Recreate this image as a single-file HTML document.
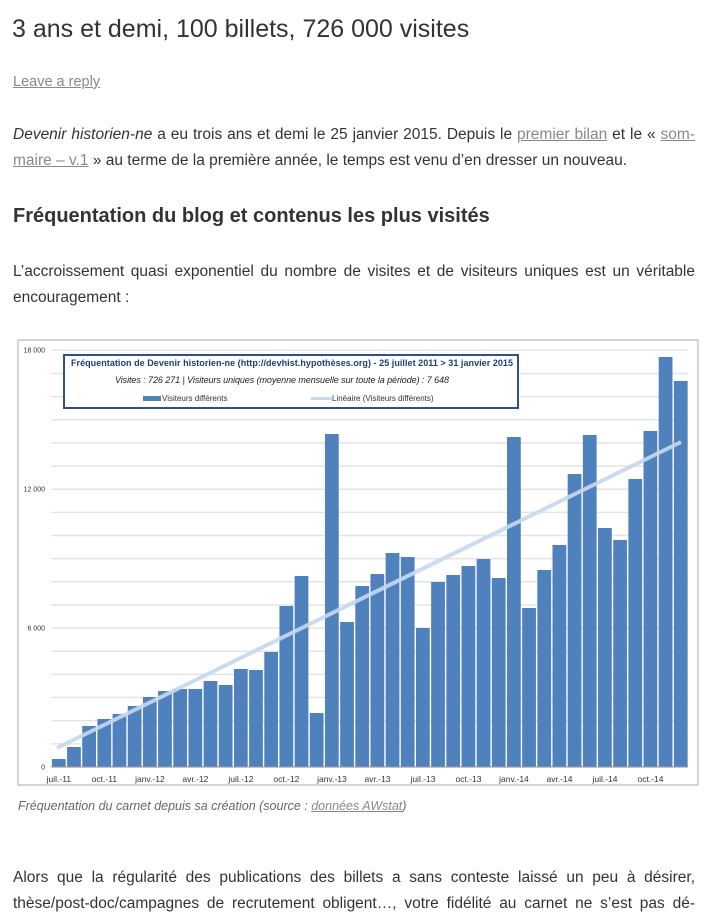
<!DOCTYPE html>
<html><head><meta charset="utf-8"><style>
body{margin:0;width:710px;height:910px;background:#fff;font-family:"Liberation Sans",sans-serif;color:#333;overflow:hidden;position:relative}
.l{position:absolute;left:13px;width:682px;font-size:15.5px;white-space:nowrap}
.j{text-align:justify;text-align-last:justify}
a{color:#888;text-decoration:underline}
h1{position:absolute;left:12px;top:15px;margin:0;font-weight:normal;font-size:25px;color:#333}
h2{position:absolute;left:13px;top:205px;margin:0;font-size:20px;font-weight:bold;color:#333}
</style></head><body>
<h1>3 ans et demi, 100 billets, 726 000 visites</h1>
<div class="l" style="top:74px;font-size:14.5px"><a>Leave a reply</a></div>
<div class="l j" style="top:126px"><i>Devenir historien-ne</i> a eu trois ans et demi le 25 janvier 2015. Depuis le <a>premier bilan</a> et le « <a>som-</a></div>
<div class="l" style="top:152px"><a>maire – v.1</a> » au terme de la première année, le temps est venu d’en dresser un nouveau.</div>
<h2>Fréquentation du blog et contenus les plus visités</h2>
<div class="l j" style="top:263px">L’accroissement quasi exponentiel du nombre de visites et de visiteurs uniques est un véritable</div>
<div class="l" style="top:289px">encouragement :</div>
<svg id="c" style="position:absolute;left:17px;top:339px" width="683" height="448" viewBox="17 339 683 448">
<rect x="18" y="340" width="680" height="445" fill="#fff" stroke="#aaa" stroke-width="1"/>
<g id="g"></g>
</svg>
<div class="l" style="top:799px;left:18px;font-size:12.5px;font-style:italic;color:#666">Fréquentation du carnet depuis sa création (source : <a>données AWstat</a>)</div>
<div class="l j" style="top:869px">Alors que la régularité des publications des billets a sans conteste laissé un peu à désirer,</div>
<div class="l j" style="top:895px">thèse/post-doc/campagnes de recrutement obligent…, votre fidélité au carnet ne s’est pas dé-</div>
<script>
var tops=[759,747,726,719,714,706,697,691,689,689,681,685,669,670,652,606,576,713,434,622,586,574,553,557,628,582,575,566,559,578,437,608,570,545,474,435,528,540,479,431,357,381];
var s='',base=767,x0=51.3,p=15.17;
for(var v=0;v<=18;v++){var y=base-v*416.7/18;s+='<line x1="51" x2="688" y1="'+y+'" y2="'+y+'" stroke="#e4e4e4" stroke-width="1.5"/>';}
tops.forEach(function(t,i){s+='<rect x="'+(x0+i*p+0.6)+'" y="'+t+'" width="'+(p-1.4)+'" height="'+(base-t)+'" fill="#4f81bd"/>';});
s+='<line x1="57" y1="748" x2="681" y2="442" stroke="#c6d9f0" stroke-width="4" opacity="0.9"/>';
s+='<line x1="51" x2="688" y1="767" y2="767" stroke="#999"/>';
[['18 000',350],['12 000',489],['6 000',628],['0',767]].forEach(function(a){s+='<text x="45" y="'+(a[1]+2.5)+'" font-size="7" text-anchor="end" fill="#333">'+a[0]+'</text>';});
var lab=['juil.-11','oct.-11','janv.-12','avr.-12','juil.-12','oct.-12','janv.-13','avr.-13','juil.-13','oct.-13','janv.-14','avr.-14','juil.-14','oct.-14'];
lab.forEach(function(l,k){var x=x0+k*3*p+p/2;s+='<text x="'+x+'" y="782" font-size="8.5" text-anchor="middle" fill="#333">'+l+'</text>';});
s+='<rect x="64" y="355" width="454" height="53" fill="#fff" stroke="#2f4f8f" stroke-width="2"/>';
s+='<text x="71" y="366" font-size="9" font-weight="bold" fill="#1f3d7a" textLength="442">Fréquentation de Devenir historien-ne (http://devhist.hypothèses.org) - 25 juillet 2011 &gt; 31 janvier 2015</text>';
s+='<text x="115" y="383" font-size="9" font-style="italic" fill="#222" textLength="334">Visites : 726 271 | Visiteurs uniques (moyenne mensuelle sur toute la période) : 7 648</text>';
s+='<rect x="143" y="396" width="18" height="5" fill="#4f81bd"/><text x="162" y="401" font-size="8" fill="#333">Visiteurs différents</text>';
s+='<line x1="311" y1="398.5" x2="332" y2="398.5" stroke="#c6d9f0" stroke-width="3"/><text x="332" y="401" font-size="8" fill="#333">Linéaire (Visiteurs différents)</text>';
document.getElementById('g').innerHTML=s;
</script>
</body></html>
